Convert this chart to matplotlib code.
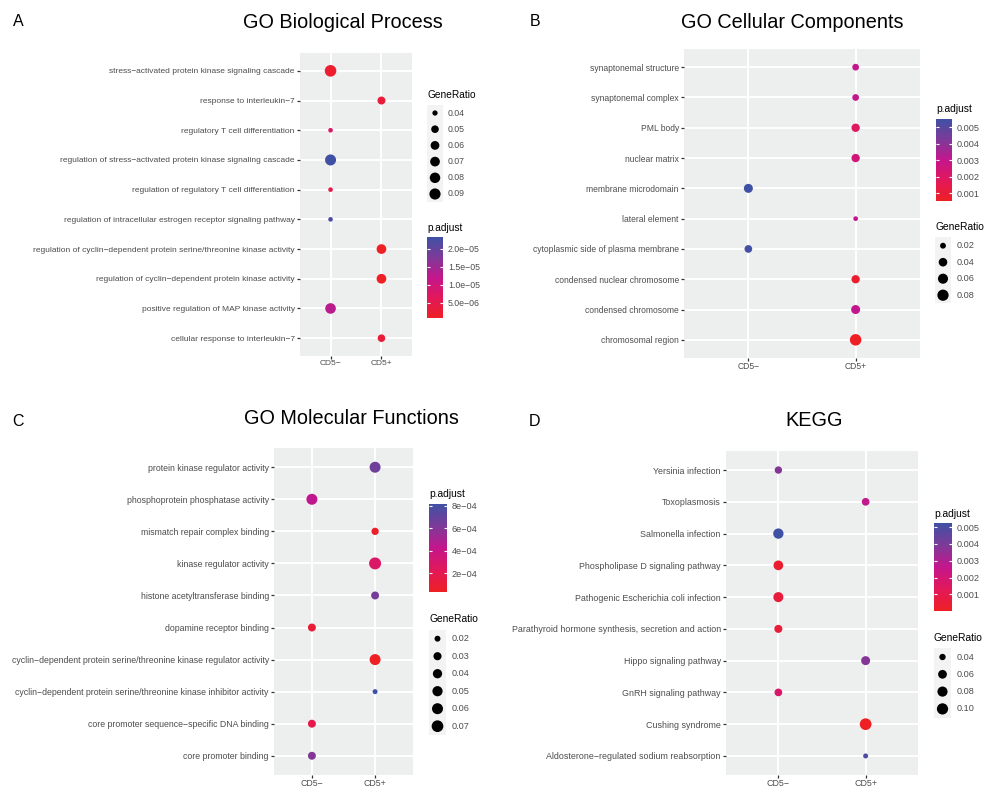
import numpy as np
import matplotlib.pyplot as plt
from matplotlib.colors import LinearSegmentedColormap, Normalize
from matplotlib.cm import ScalarMappable
from matplotlib.patches import Rectangle

W, H, DPI = 986, 787, 100
plt.rcParams['font.family'] = ['Liberation Sans', 'DejaVu Sans']

groups = ['CD5−', 'CD5+']

# A - GO biological process (rows listed top to bottom)
bp_terms = ['stress−activated protein kinase signaling cascade',
            'response to interleukin−7',
            'regulatory T cell differentiation',
            'regulation of stress−activated protein kinase signaling cascade',
            'regulation of regulatory T cell differentiation',
            'regulation of intracellular estrogen receptor signaling pathway',
            'regulation of cyclin−dependent protein serine/threonine kinase activity',
            'regulation of cyclin−dependent protein kinase activity',
            'positive regulation of MAP kinase activity',
            'cellular response to interleukin−7']
bp_group = [0, 1, 0, 0, 0, 0, 1, 1, 0, 1]
bp_ratio = [0.097, 0.053, 0.0395, 0.088, 0.0395, 0.0395, 0.070, 0.070, 0.082, 0.050]
bp_padj = [2.0e-6, 3.0e-6, 8.0e-6, 2.33e-5, 4.5e-6, 2.2e-5, 8e-7, 8e-7, 1.3e-5, 3.0e-6]

# B - GO cellular components
cc_terms = ['synaptonemal structure', 'synaptonemal complex', 'PML body', 'nuclear matrix',
            'membrane microdomain', 'lateral element', 'cytoplasmic side of plasma membrane',
            'condensed nuclear chromosome', 'condensed chromosome', 'chromosomal region']
cc_group = [1, 1, 1, 1, 0, 1, 0, 1, 1, 1]
cc_ratio = [0.024, 0.024, 0.037, 0.037, 0.045, 0.018, 0.031, 0.037, 0.045, 0.085]
cc_padj = [0.0030, 0.0030, 0.0019, 0.0025, 0.00549, 0.0030, 0.0054, 0.0008, 0.0030, 0.00052]

# C - GO molecular functions
mf_terms = ['protein kinase regulator activity', 'phosphoprotein phosphatase activity',
            'mismatch repair complex binding', 'kinase regulator activity',
            'histone acetyltransferase binding', 'dopamine receptor binding',
            'cyclin−dependent protein serine/threonine kinase regulator activity',
            'cyclin−dependent protein serine/threonine kinase inhibitor activity',
            'core promoter sequence−specific DNA binding', 'core promoter binding']
mf_group = [1, 0, 1, 1, 1, 0, 1, 1, 0, 0]
mf_ratio = [0.060, 0.060, 0.025, 0.075, 0.029, 0.029, 0.060, 0.019, 0.029, 0.029]
mf_padj = [6.6e-4, 4.3e-4, 5e-5, 2.7e-4, 6.4e-4, 1.0e-4, 3.1e-5, 8.15e-4, 1.7e-4, 6.0e-4]

# D - KEGG
kegg_terms = ['Yersinia infection', 'Toxoplasmosis', 'Salmonella infection',
              'Phospholipase D signaling pathway', 'Pathogenic Escherichia coli infection',
              'Parathyroid hormone synthesis, secretion and action', 'Hippo signaling pathway',
              'GnRH signaling pathway', 'Cushing syndrome',
              'Aldosterone−regulated sodium reabsorption']
kegg_group = [0, 1, 0, 0, 0, 0, 1, 0, 1, 1]
kegg_ratio = [0.046, 0.049, 0.083, 0.073, 0.078, 0.052, 0.063, 0.049, 0.110, 0.037]
kegg_padj = [0.0038, 0.0027, 0.00524, 0.0003, 0.0006, 0.0005, 0.0038, 0.0017, 0.00001, 0.0049]

cmap = LinearSegmentedColormap.from_list(
    'padj', ['#EE2024', '#E2185A', '#C4168C', '#7D3A98', '#3F51A5'])


def box(x0, y0, x1, y1):
    # pixel box (top-left origin) -> figure fraction rect
    return [x0 / W, 1 - y1 / H, (x1 - x0) / W, (y1 - y0) / H]


def pt2(d):
    # marker diameter in pixels -> scatter area in points^2
    return (np.asarray(d, float) * 72 / DPI) ** 2


def diam(r, lo, hi, dmin, dmax):
    t = np.clip((np.asarray(r, float) - lo) / (hi - lo), 0, 1)
    return dmin + (dmax - dmin) * np.sqrt(t)


panels = [
    dict(letter='A', title='GO Biological Process', letter_xy=(18, 21), title_xy=(343, 23),
         terms=bp_terms, group=bp_group, ratio=bp_ratio, padj=bp_padj,
         axes=(300, 53, 412, 356), dsize=(4.6, 11.6), fs=6.0, tfs=7.3, lfs=6.3,
         crange=(8e-7, 2.33e-5), cticks=[5e-6, 1e-5, 1.5e-5, 2e-5],
         clabels=['5.0e−06', '1.0e−05', '1.5e−05', '2.0e−05'],
         cbar=(427, 237, 443, 318), ctitle_y=228,
         breaks=[0.04, 0.05, 0.06, 0.07, 0.08, 0.09], key_y0=113, key_dy=16.2,
         keybox=(427, 105, 443, 202), stitle_y=95, text_x=448),
    dict(letter='B', title='GO Cellular Components', letter_xy=(535, 21), title_xy=(792, 23),
         terms=cc_terms, group=cc_group, ratio=cc_ratio, padj=cc_padj,
         axes=(684, 49, 920, 358), dsize=(4.7, 11.5), fs=6.15, tfs=7.4, lfs=6.6,
         crange=(0.00052, 0.00549), cticks=[0.001, 0.002, 0.003, 0.004, 0.005],
         clabels=['0.001', '0.002', '0.003', '0.004', '0.005'],
         cbar=(936, 119, 952, 201), ctitle_y=109,
         breaks=[0.02, 0.04, 0.06, 0.08], key_y0=245.7, key_dy=16.5,
         keybox=(935, 237, 951, 303), stitle_y=227, text_x=957),
    dict(letter='C', title='GO Molecular Functions', letter_xy=(18, 422), title_xy=(351, 419),
         terms=mf_terms, group=mf_group, ratio=mf_ratio, padj=mf_padj,
         axes=(274, 448, 413, 775), dsize=(5.0, 12.0), fs=6.35, tfs=7.4, lfs=6.6,
         crange=(3.1e-5, 8.15e-4), cticks=[2e-4, 4e-4, 6e-4, 8e-4],
         clabels=['2e−04', '4e−04', '6e−04', '8e−04'],
         cbar=(429, 504, 447, 592), ctitle_y=494,
         breaks=[0.02, 0.03, 0.04, 0.05, 0.06, 0.07], key_y0=638.7, key_dy=17.5,
         keybox=(429, 630, 446, 735), stitle_y=619, text_x=452),
    dict(letter='D', title='KEGG', letter_xy=(535, 422), title_xy=(814, 420),
         terms=kegg_terms, group=kegg_group, ratio=kegg_ratio, padj=kegg_padj,
         axes=(726, 451, 918, 775), dsize=(5.0, 11.7), fs=6.4, tfs=7.4, lfs=6.6,
         crange=(0.00001, 0.00524), cticks=[0.001, 0.002, 0.003, 0.004, 0.005],
         clabels=['0.001', '0.002', '0.003', '0.004', '0.005'],
         cbar=(934, 523, 952, 611), ctitle_y=514,
         breaks=[0.04, 0.06, 0.08, 0.10], key_y0=657, key_dy=17.3,
         keybox=(934, 648, 951, 718), stitle_y=638, text_x=957),
]

fig = plt.figure(figsize=(W / DPI, H / DPI), dpi=DPI)
fig.patch.set_facecolor('white')

# overlay in pixel coordinates for titles and the size keys
over = fig.add_axes([0, 0, 1, 1], zorder=10)
over.set_xlim(0, W)
over.set_ylim(H, 0)
over.axis('off')

for p in panels:
    n = len(p['terms'])
    y = np.arange(n)[::-1]
    lo, hi = min(p['ratio']), max(p['ratio'])
    norm = Normalize(*p['crange'])

    ax = fig.add_axes(box(*p['axes']))
    ax.set_facecolor('#EDEEEE')
    ax.set_axisbelow(True)
    ax.grid(color='white', lw=1.4)
    for s in ax.spines.values():
        s.set_visible(False)
    ax.scatter(p['group'], y, s=pt2(diam(p['ratio'], lo, hi, *p['dsize'])),
               c=p['padj'], cmap=cmap, norm=norm, linewidths=0, zorder=3)
    ax.set_xlim(-0.6, 1.6)
    ax.set_ylim(-0.6, n - 0.4)
    ax.set_xticks([0, 1], groups)
    ax.set_yticks(y, p['terms'])
    ax.tick_params(length=2.2, width=0.9, color='#333333', labelcolor='#4D4D4D',
                   labelsize=p['fs'], pad=1.5)
    ax.tick_params(axis='x', pad=0.6)

    over.text(*p['letter_xy'], p['letter'], fontsize=11.5, ha='center', va='center')
    over.text(*p['title_xy'], p['title'], fontsize=14.3, ha='center', va='center')

    # colour bar
    cx0, cy0, cx1, cy1 = p['cbar']
    cax = fig.add_axes(box(*p['cbar']))
    cb = fig.colorbar(ScalarMappable(norm=norm, cmap=cmap), cax=cax)
    cb.outline.set_visible(False)
    cb.set_ticks(p['cticks'], labels=p['clabels'])
    cax.tick_params(left=True, right=True, direction='in', length=2.3, width=0.8,
                    color='white', labelcolor='#4D4D4D', labelsize=p['lfs'], pad=3.5)
    over.text(cx0, p['ctitle_y'], 'p.adjust', fontsize=p['tfs'], ha='left', va='center')

    # size key
    kx0, ky0, kx1, ky1 = p['keybox']
    over.add_patch(Rectangle((kx0, ky0), kx1 - kx0, ky1 - ky0, fc='#F3F3F3', ec='none'))
    ky = p['key_y0'] + p['key_dy'] * np.arange(len(p['breaks']))
    over.scatter([(kx0 + kx1) / 2] * len(ky), ky,
                 s=pt2(diam(p['breaks'], lo, hi, *p['dsize'])), c='black', linewidths=0)
    for b, yy in zip(p['breaks'], ky):
        over.text(p['text_x'], yy, f'{b:.2f}', fontsize=p['lfs'], color='#4D4D4D',
                  ha='left', va='center')
    over.text(kx0, p['stitle_y'], 'GeneRatio', fontsize=p['tfs'], ha='left', va='center')

fig.savefig('out.png', dpi=DPI)
